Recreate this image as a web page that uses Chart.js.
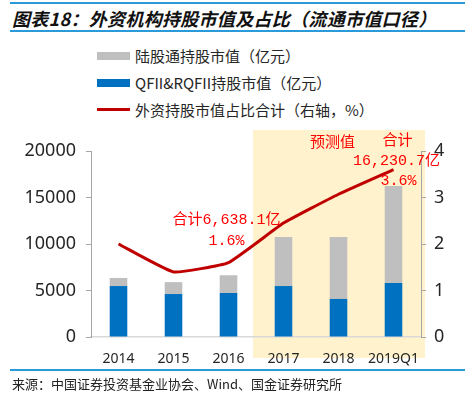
<!DOCTYPE html>
<html>
<head>
<meta charset="utf-8">
<script src="https://cdn.jsdelivr.net/npm/chart.js@4/dist/chart.umd.min.js"></script>
<style>
  body { margin: 0; background: #fff; font-family: "Noto Sans CJK SC", sans-serif; }
  #wrap { position: relative; width: 470px; height: 395px; overflow: hidden; }
  #myChart { position: absolute; left: 0; top: 0; }
  .rule { position: absolute; left: 10px; width: 455px; height: 2px; background: #2A9BD8; }
  #title { position: absolute; left: 12px; top: 5px; font-size: 18px; font-weight: bold; font-style: italic; color: #111; white-space: nowrap; letter-spacing: 0.3px; }
  #source { position: absolute; left: 12px; top: 374px; font-size: 13px; color: #222; white-space: nowrap; }
  .lg { position: absolute; left: 97px; font-size: 15px; color: #262626; white-space: nowrap; }
  .lg i { position: absolute; left: 0; width: 33px; }
  .lg span { position: absolute; left: 38px; top: -11px; }
</style>
</head>
<body>
<div id="wrap">
  <div class="rule" style="top:2px"></div>
  <div id="title">图表18：外资机构持股市值及占比（流通市值口径）</div>
  <div class="rule" style="top:30px"></div>

  <div class="lg" style="top:56px"><i style="top:-4px;height:8px;background:#BFBFBF"></i><span>陆股通持股市值（亿元）</span></div>
  <div class="lg" style="top:83px"><i style="top:-4px;height:8px;background:#0070C0"></i><span>QFII&amp;RQFII持股市值（亿元）</span></div>
  <div class="lg" style="top:110px"><i style="top:-2px;height:3px;background:#C00000"></i><span>外资持股市值占比合计（右轴，%）</span></div>

  <canvas id="myChart" width="470" height="395"></canvas>

  <div class="rule" style="top:369px"></div>
  <div id="source">来源：中国证券投资基金业协会、Wind、国金证券研究所</div>
</div>

<script>
const years = ['2014', '2015', '2016', '2017', '2018', '2019Q1'];
const qfiiValues = [5480, 4620, 4730, 5480, 4090, 5810];          // 亿元
const northboundValues = [870, 1280, 1908.1, 5270, 6660, 10420.7]; // 亿元
const foreignShare = [2.0, 1.4, 1.6, 2.45, 3.07, 3.6];             // %
const leftTicks = [0, 5000, 10000, 15000, 20000];
const rightTicks = [0, 1, 2, 3, 4];

// 预测区间从2017开始
const forecastStart = 3;

const tickFont = { family: 'Noto Sans', size: 18 };
const noteFont = "15px 'Liberation Mono', 'Noto Sans CJK SC'";

// 背景阴影（预测值区域）
const shadePlugin = {
  id: 'shade',
  beforeDraw(chart) {
    const { ctx, chartArea, scales } = chart;
    const x0 = (scales.x.getPixelForValue(forecastStart - 1) + scales.x.getPixelForValue(forecastStart)) / 2 - 3;
    const top = scales.y1.getPixelForValue(4) - 21;
    ctx.save();
    ctx.fillStyle = '#FFF2CC';
    ctx.fillRect(x0, top, chartArea.right + 4 - x0, chartArea.bottom + 21 - top);
    ctx.restore();
  }
};

// 红色标注文字
const notePlugin = {
  id: 'notes',
  afterDatasetsDraw(chart) {
    const { ctx } = chart;
    const pts = chart.getDatasetMeta(2).data;
    const total = (i) => (qfiiValues[i] + northboundValues[i]).toLocaleString('en-US', { minimumFractionDigits: 1, maximumFractionDigits: 1 });
    ctx.save();
    ctx.fillStyle = '#FF0000';
    ctx.font = noteFont;
    ctx.textAlign = 'center';
    ctx.textBaseline = 'middle';
    const p16 = pts[2], p18 = pts[4], p19 = pts[5];
    ctx.fillText('合计' + total(2) + '亿', p16.x - 2, p16.y - 43);
    ctx.fillText(foreignShare[2].toFixed(1) + '%', p16.x - 2, p16.y - 22);
    ctx.fillText('预测值', p18.x - 6, p18.y - 51);
    ctx.fillText('合计', p19.x + 4, p19.y - 29);
    ctx.fillText(total(5) + '亿', p19.x + 3, p19.y - 9);
    ctx.fillText(foreignShare[5].toFixed(1) + '%', p19.x + 5, p19.y + 11);
    ctx.restore();
  }
};

const ctx = document.getElementById('myChart').getContext('2d');
const myChart = new Chart(ctx, {
  type: 'bar',
  data: {
    labels: years,
    datasets: [{
      label: 'QFII&RQFII持股市值（亿元）',
      data: qfiiValues,
      backgroundColor: '#0070C0',
      yAxisID: 'y',
      stack: 's',
      order: 2
    }, {
      label: '陆股通持股市值（亿元）',
      data: northboundValues,
      backgroundColor: '#BFBFBF',
      yAxisID: 'y',
      stack: 's',
      order: 2
    }, {
      type: 'line',
      label: '外资持股市值占比合计（右轴，%）',
      data: foreignShare,
      borderColor: '#C00000',
      borderWidth: 3,
      pointRadius: 0,
      tension: 0.12,
      fill: false,
      yAxisID: 'y1',
      order: 1
    }]
  },
  options: {
    responsive: false,
    animation: false,
    datasets: { bar: { categoryPercentage: 1, barPercentage: 0.32 } },
    layout: { padding: { top: 151, left: 0, right: 0, bottom: 0 } },
    plugins: { legend: { display: false }, tooltip: { enabled: false } },
    scales: {
      x: {
        stacked: true,
        afterFit: (s) => { s.height = 58; },
        grid: { display: false },
        border: { display: true, color: '#D9D9D9', width: 1.5 },
        ticks: { color: '#262626', font: { family: 'Noto Sans', size: 14 }, padding: 6, maxRotation: 0, minRotation: 0, autoSkip: false }
      },
      y: {
        stacked: true,
        position: 'left',
        min: 0,
        max: 20000,
        afterFit: (s) => { s.width = 91; },
        afterBuildTicks: (s) => { s.ticks = leftTicks.map(v => ({ value: v })); },
        grid: { drawOnChartArea: false, drawTicks: true, tickLength: 5, color: '#A6A6A6' },
        border: { display: true, color: '#A6A6A6' },
        ticks: { color: '#262626', font: tickFont, padding: 10, callback: (v) => String(v) }
      },
      y1: {
        position: 'right',
        min: 0,
        max: 4,
        afterFit: (s) => { s.width = 49; },
        afterBuildTicks: (s) => { s.ticks = rightTicks.map(v => ({ value: v })); },
        grid: { drawOnChartArea: false, drawTicks: true, tickLength: 5, color: '#A6A6A6' },
        border: { display: true, color: '#A6A6A6' },
        ticks: { color: '#262626', font: tickFont, padding: 8, callback: (v) => String(v) }
      }
    }
  },
  plugins: [shadePlugin, notePlugin]
});
</script>
</body>
</html>
